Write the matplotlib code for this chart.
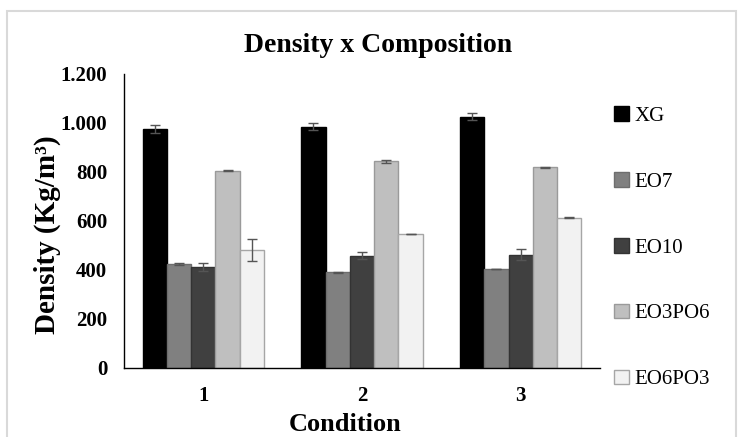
import matplotlib
matplotlib.use("Agg")
import matplotlib.pyplot as plt
import numpy as np
from matplotlib.patches import Rectangle

plt.rcParams['font.family'] = ['Liberation Serif', 'DejaVu Serif']

# Data
conditions = ["1", "2", "3"]
series = ["XG", "EO7", "EO10", "EO3PO6", "EO6PO3"]
xg = [976, 985, 1026]
eo7 = [425, 391, 405]
eo10 = [413, 459, 463]
eo3po6 = [805, 843, 819]
eo6po3 = [482, 547, 614]
xg_err = [15, 13, 15]
eo7_err = [3, 2, 1]
eo10_err = [16, 14, 24]
eo3po6_err = [2, 6, 1]
eo6po3_err = [46, 1, 1]
yticks = [0, 200, 400, 600, 800, 1000, 1200]
ytick_labels = ["0", "200", "400", "600", "800", "1.000", "1.200"]

values = [xg, eo7, eo10, eo3po6, eo6po3]
errors = [xg_err, eo7_err, eo10_err, eo3po6_err, eo6po3_err]
fills = ["#000000", "#808080", "#404040", "#bfbfbf", "#f2f2f2"]
edges = ["#000000", "#6e6e6e", "#333333", "#9a9a9a", "#a6a6a6"]

fig = plt.figure(figsize=(7.42, 4.37), dpi=100)
ax = fig.add_axes([0.1671, 0.1579, 0.6415, 0.6728])

x = np.arange(1, len(conditions) + 1)
w = 0.153
handles = []
for i, (vals, errs) in enumerate(zip(values, errors)):
    pos = x + (i - 2) * w
    b = ax.bar(pos, vals, width=w, color=fills[i], edgecolor=edges[i],
               linewidth=1, label=series[i], zorder=2)
    ax.errorbar(pos, vals, yerr=errs, fmt='none', ecolor='#555555',
                elinewidth=1, capsize=3.3, capthick=1, zorder=3)
    handles.append(b)

ax.set_xlim(0.5, 3.5)
ax.set_ylim(0, 1200)
ax.set_yticks(yticks)
ax.set_yticklabels(ytick_labels, fontsize=15, fontweight='bold')
ax.set_xticks(x)
ax.set_xticklabels(conditions, fontsize=15, fontweight='bold')
ax.tick_params(length=0, pad=12)
ax.tick_params(axis='x', pad=13)
for s in ['top', 'right']:
    ax.spines[s].set_visible(False)
for s in ['left', 'bottom']:
    ax.spines[s].set_linewidth(1)

ax.set_ylabel("Density (Kg/m³)", fontsize=21, fontweight='bold')
ax.yaxis.set_label_coords(-0.162, 0.452)
ax.set_xlabel("Condition", fontsize=19, fontweight='bold')
ax.xaxis.set_label_coords(0.464, -0.192)
ax.xaxis.label.set_va('center')
ax.yaxis.label.set_va('center')

fig.text(378 / 742, 1 - 46 / 437, "Density x Composition", fontsize=20,
         fontweight='bold', ha='center', va='center')

leg = fig.legend(handles=handles, loc='upper left',
                 bbox_to_anchor=(606 / 742, 1 - 98 / 437), frameon=False,
                 prop={'size': 15}, labelspacing=2.22, handlelength=0.7,
                 handleheight=0.7, handletextpad=0.25, borderaxespad=0)

# light frame around the chart area
fig.patches.append(Rectangle((7 / 742, -0.05), 729 / 742, 1.05 - 11 / 437,
                             transform=fig.transFigure, fill=False,
                             edgecolor='#d9d9d9', linewidth=1.5))

fig.savefig("out.png", dpi=100)
